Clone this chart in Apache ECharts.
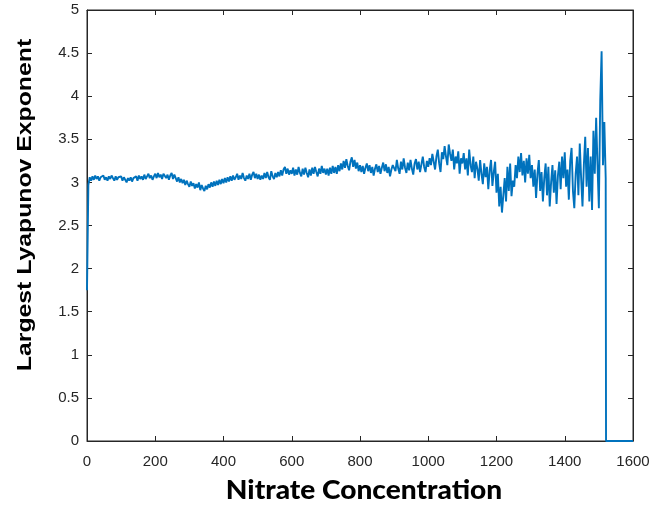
<!DOCTYPE html>
<html>
<head>
<meta charset="utf-8">
<script src="https://cdn.jsdelivr.net/npm/echarts@6/dist/echarts.min.js"></script>
<style>
html,body{margin:0;padding:0;background:#fff;}
#chart{width:654px;height:511px;}
</style>
</head>
<body>
<div id="chart"></div>
<script>
// Sampling grid of nitrate concentration (start, spacing) for the main series
const sampleStart = 0;
const sampleStep = 4;
// Largest Lyapunov exponent, one value per grid step (x = 0 .. 1520)
const lyapunov = [
  // 0-96
  1.75, 2.97, 3.06, 3.02, 3.07, 3.03, 3.08, 3.04, 3.07, 3.02, 3.06, 3.04, 3.08, 3.03, 3.06, 3.02, 3.07, 3.04, 3.08, 3.05, 3.02, 3.07, 3.03, 3.06, 3.04,
  // 100-196
  3.07, 3.02, 3.06, 3.03, 3.00, 3.05, 3.02, 3.06, 3.01, 3.05, 3.03, 3.07, 3.02, 3.08, 3.04, 3.07, 3.03, 3.09, 3.04, 3.07, 3.10, 3.05, 3.08, 3.03, 3.07,
  // 200-296
  3.10, 3.05, 3.11, 3.06, 3.09, 3.04, 3.10, 3.12, 3.05, 3.09, 3.03, 3.08, 3.11, 3.04, 3.09, 3.05, 3.01, 3.06, 3.00, 3.04, 2.99, 3.03, 2.97, 3.02, 2.98,
  // 300-396
  2.95, 3.01, 2.96, 2.99, 2.93, 2.98, 2.94, 3.00, 2.91, 2.97, 2.93, 2.90, 2.96, 2.92, 2.98, 2.94, 3.00, 2.95, 3.01, 2.96, 3.02, 2.97, 3.03, 2.98, 3.04,
  // 400-496
  2.99, 3.05, 3.00, 3.06, 3.01, 3.07, 3.02, 3.08, 3.03, 3.06, 3.10, 3.03, 3.08, 3.04, 3.11, 3.05, 3.02, 3.08, 3.04, 3.10, 3.03, 3.09, 3.12, 3.05, 3.10,
  // 500-596
  3.04, 3.09, 3.03, 3.08, 3.04, 3.11, 3.05, 3.12, 3.06, 3.03, 3.13, 3.07, 3.04, 3.11, 3.06, 3.12, 3.07, 3.14, 3.08, 3.15, 3.18, 3.10, 3.16, 3.09, 3.14,
  // 600-696
  3.10, 3.17, 3.08, 3.15, 3.09, 3.18, 3.11, 3.07, 3.16, 3.09, 3.17, 3.11, 3.06, 3.15, 3.08, 3.17, 3.10, 3.18, 3.12, 3.07, 3.16, 3.10, 3.19, 3.11, 3.16,
  // 700-796
  3.09, 3.16, 3.08, 3.17, 3.10, 3.19, 3.11, 3.18, 3.10, 3.20, 3.13, 3.22, 3.15, 3.25, 3.17, 3.27, 3.19, 3.14, 3.24, 3.29, 3.18, 3.26, 3.16, 3.23, 3.13,
  // 800-896
  3.20, 3.12, 3.19, 3.10, 3.17, 3.22, 3.13, 3.20, 3.11, 3.18, 3.08, 3.16, 3.21, 3.12, 3.19, 3.10, 3.17, 3.23, 3.13, 3.21, 3.11, 3.18, 3.07, 3.15, 3.20,
  // 900-996
  3.22, 3.13, 3.26, 3.16, 3.10, 3.24, 3.15, 3.28, 3.17, 3.11, 3.23, 3.14, 3.26, 3.16, 3.09, 3.22, 3.27, 3.15, 3.24, 3.12, 3.21, 3.30, 3.18, 3.12, 3.25,
  // 1000-1096
  3.18, 3.28, 3.20, 3.33, 3.24, 3.15, 3.30, 3.38, 3.22, 3.12, 3.35, 3.27, 3.42, 3.30, 3.20, 3.44, 3.33, 3.25, 3.38, 3.15, 3.30, 3.22, 3.36, 3.10, 3.28,
  // 1100-1196
  3.22, 3.34, 3.15, 3.28, 3.08, 3.38, 3.20, 3.12, 3.30, 3.05, 3.24, 3.16, 3.02, 3.26, 3.10, 2.98, 3.22, 3.06, 3.18, 2.92, 3.14, 3.26, 2.96, 3.12, 3.24,
  // 1200-1296
  2.88, 3.10, 2.72, 2.95, 2.65, 2.85, 3.05, 2.78, 3.18, 2.90, 3.22, 2.84, 3.02, 2.95, 3.20, 3.05, 3.30, 3.12, 3.34, 3.08, 3.25, 3.00, 3.28, 3.10, 3.32,
  // 1300-1396
  3.05, 3.20, 2.95, 3.15, 2.82, 3.10, 3.26, 2.90, 3.12, 2.78, 3.05, 3.22, 2.85, 3.18, 2.72, 3.00, 3.20, 2.88, 3.14, 2.75, 3.08, 3.24, 2.92, 3.30, 3.05,
  // 1400-1496
  3.35, 2.95, 3.15, 2.80, 3.25, 3.40, 2.90, 2.70, 3.10, 3.30, 2.85, 3.45, 3.05, 2.72, 3.20, 3.53, 2.95, 3.40, 2.78, 3.30, 2.68, 3.60, 3.10, 3.75, 3.20,
  // 1500-1520
  2.70, 3.95, 4.52, 3.20, 3.70, 3.05
];
// Tail after collapse: explicit points
const tailX = [1521, 1600];
const tailY = [0, 0];

const xTicks = [0, 200, 400, 600, 800, 1000, 1200, 1400, 1600];
const yTicks = [0, 0.5, 1, 1.5, 2, 2.5, 3, 3.5, 4, 4.5, 5];

const seriesData = lyapunov.map((v, i) => [sampleStart + i * sampleStep, v]);
tailX.forEach((x, i) => seriesData.push([x, tailY[i]]));

const axisColor = '#262626';
const labelFont = 'Liberation Sans';

const chart = echarts.init(document.getElementById('chart'), null, {renderer: 'canvas'});
chart.setOption({
  animation: false,
  backgroundColor: '#ffffff',
  grid: {left: 87, right: 21, top: 10, bottom: 70, show: true, borderColor: axisColor, borderWidth: 1, backgroundColor: 'transparent'},
  xAxis: [{
    type: 'value', min: xTicks[0], max: xTicks[xTicks.length - 1], interval: 200,
    axisLine: {show: true, onZero: false, lineStyle: {color: axisColor, width: 1}},
    axisTick: {show: true, inside: true, length: 5, lineStyle: {color: axisColor}},
    axisLabel: {color: axisColor, fontFamily: labelFont, fontSize: 15, margin: 13, formatter: v => String(v)},
    splitLine: {show: false}
  }, {
    type: 'value', position: 'top', min: xTicks[0], max: xTicks[xTicks.length - 1], interval: 200,
    axisLine: {show: true, onZero: false, lineStyle: {color: axisColor, width: 1}},
    axisTick: {show: true, inside: true, length: 5, lineStyle: {color: axisColor}},
    axisLabel: {show: false}, splitLine: {show: false}
  }],
  yAxis: [{
    type: 'value', min: yTicks[0], max: yTicks[yTicks.length - 1], interval: 0.5,
    axisLine: {show: true, onZero: false, lineStyle: {color: axisColor, width: 1}},
    axisTick: {show: true, inside: true, length: 5, lineStyle: {color: axisColor}},
    axisLabel: {color: axisColor, fontFamily: labelFont, fontSize: 15, margin: 8, formatter: v => String(v)},
    splitLine: {show: false}
  }, {
    type: 'value', position: 'right', min: yTicks[0], max: yTicks[yTicks.length - 1], interval: 0.5,
    axisLine: {show: true, onZero: false, lineStyle: {color: axisColor, width: 1}},
    axisTick: {show: true, inside: true, length: 5, lineStyle: {color: axisColor}},
    axisLabel: {show: false}, splitLine: {show: false}
  }],
  series: [{
    type: 'line', xAxisIndex: 0, yAxisIndex: 0,
    data: seriesData, showSymbol: false, symbol: 'none',
    lineStyle: {color: '#0072BD', width: 1.9},
    z: 3
  }],
  graphic: [{
    type: 'text',
    x: 364, y: 491, scaleX: 1.08,
    style: {text: 'Nitrate Concentration', font: '900 26px Lato', fill: '#000', textAlign: 'center', textVerticalAlign: 'middle'}
  }, {
    type: 'text',
    x: 25, y: 205, rotation: Math.PI / 2, scaleX: 1.18,
    style: {text: 'Largest Lyapunov Exponent', font: 'bold 21px "Liberation Sans"', fill: '#000', textAlign: 'center', textVerticalAlign: 'middle'}
  }]
});
</script>
</body>
</html>
